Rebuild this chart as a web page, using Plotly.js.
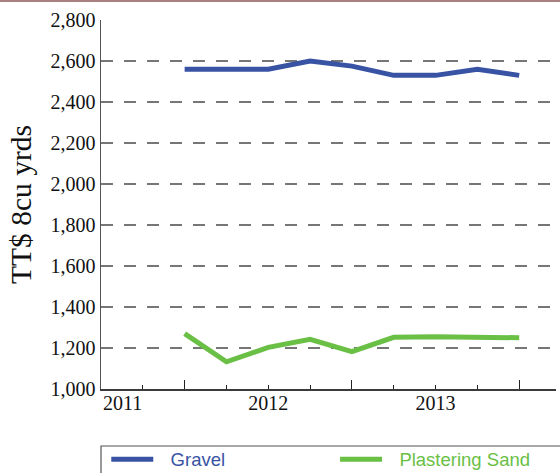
<!DOCTYPE html>
<html>
<head>
<meta charset="utf-8">
<script src="https://cdn.plot.ly/plotly-3.0.1.min.js"></script>
<style>html,body{margin:0;padding:0;background:#fff;}#chart{width:560px;height:473px;}</style>
</head>
<body>
<div id="chart"></div>
<script>
// ---- data ----
var PERIODS = [2011.5, 2011.75, 2012, 2012.25, 2012.5, 2012.75, 2013, 2013.25, 2013.5];
var GRAVEL = [2560, 2560, 2560, 2600, 2575, 2530, 2530, 2560, 2530];
var PLASTERING_SAND = [1270, 1133, 1203, 1242, 1182, 1252, 1255, 1250, 1250];
var SERIES_NAMES = ['Gravel', 'Plastering Sand'];
var SERIES_COLORS = ['#3953a4', '#6abf45'];
var YEAR_TICKS = [2011, 2012, 2013];
var YEAR_LABELS = ['2011', '2012', '2013'];
var HALF_YEAR_TICKS = [2011.5, 2012.5, 2013.5];
var Y_TICKS = [1000, 1200, 1400, 1600, 1800, 2000, 2200, 2400, 2600, 2800];
var Y_LABELS = ['1,000', '1,200', '1,400', '1,600', '1,800', '2,000', '2,200', '2,400', '2,600', '2,800'];
var Y_TITLE = 'TT$ 8cu yrds';

function legendName(i) {
  return '<span style="color:' + SERIES_COLORS[i] + '">\u2002\u2006' + SERIES_NAMES[i] + '</span>';
}

var traces = [
  {x: PERIODS, y: GRAVEL, name: legendName(0), type: 'scatter', mode: 'lines', legend: 'legend',
   line: {color: SERIES_COLORS[0], width: 5}, hoverinfo: 'skip'},
  {x: PERIODS, y: PLASTERING_SAND, name: legendName(1), type: 'scatter', mode: 'lines', legend: 'legend2',
   line: {color: SERIES_COLORS[1], width: 5}, hoverinfo: 'skip'},
  // carrier for the overlay axis with the long half-year ticks (not drawn)
  {x: PERIODS, y: PLASTERING_SAND, xaxis: 'x2', type: 'scatter', mode: 'lines',
   line: {color: 'rgba(0,0,0,0)', width: 0}, showlegend: false, hoverinfo: 'skip'}
];

var serif = 'Liberation Serif, Times New Roman, serif';
var sans = 'Liberation Sans, Arial, sans-serif';
var legendCommon = {
  orientation: 'h', xanchor: 'left', y: -0.14, yanchor: 'top', itemwidth: 42,
  font: {family: sans, size: 18.5}, bgcolor: 'rgba(0,0,0,0)', borderwidth: 0
};
var layout = {
  width: 560, height: 473,
  margin: {l: 101, r: 4, t: 20, b: 84, autoexpand: false},
  paper_bgcolor: '#fff', plot_bgcolor: '#fff',
  showlegend: true,
  xaxis: {
    range: [2011, 2013.72], tickmode: 'array',
    tickvals: YEAR_TICKS.slice(1), ticktext: YEAR_LABELS.slice(1),
    ticks: 'inside', ticklen: 4, tickwidth: 1, tickcolor: '#222',
    ticklabelstandoff: -5,
    showgrid: false, zeroline: false,
    showline: true, linecolor: '#3a3a3a', linewidth: 1.5,
    tickfont: {family: serif, size: 20, color: '#111'},
    minor: {tickmode: 'linear', tick0: 2011, dtick: 0.25, ticks: 'inside', ticklen: 4, tickwidth: 1, tickcolor: '#222', showgrid: false}
  },
  xaxis2: {
    overlaying: 'x', anchor: 'y', side: 'bottom', range: [2011, 2013.72],
    tickmode: 'array', tickvals: HALF_YEAR_TICKS, showticklabels: false,
    ticks: 'inside', ticklen: 9, tickwidth: 1, tickcolor: '#222',
    showgrid: false, zeroline: false, showline: false
  },
  yaxis: {
    range: [1000, 2800], tickmode: 'array', tickvals: Y_TICKS, ticktext: Y_LABELS,
    ticks: '', showgrid: true, gridcolor: '#767676', gridwidth: 1.5, griddash: '12px,11px',
    zeroline: false, showline: true, linecolor: '#555', linewidth: 1.5,
    tickfont: {family: serif, size: 20, color: '#111'},
    title: {text: Y_TITLE, font: {family: serif, size: 29.5, color: '#111'}, standoff: 10}
  },
  // first year label sits right of the axis corner, as in the reference
  annotations: [
    {x: YEAR_TICKS[0], xref: 'x', xanchor: 'left', y: 0, yref: 'paper', yanchor: 'top',
     yshift: -1, showarrow: false, text: YEAR_LABELS[0],
     font: {family: serif, size: 20, color: '#111'}}
  ],
  legend: Object.assign({}, legendCommon, {x: 0.0116}),
  legend2: Object.assign({}, legendCommon, {x: 0.5144}),
  shapes: [
    {type: 'rect', xref: 'paper', yref: 'paper', x0: 0, x1: 1.1, y0: -0.1545, y1: -0.4,
     line: {color: '#555', width: 1.2}, fillcolor: 'rgba(0,0,0,0)'},
    {type: 'line', xref: 'paper', yref: 'paper', x0: -0.3, x1: 1.1, y0: 1.0515, y1: 1.0515,
     line: {color: '#a88080', width: 2}}
  ]
};

Plotly.newPlot('chart', traces, layout, {displayModeBar: false, staticPlot: true});
</script>
</body>
</html>
